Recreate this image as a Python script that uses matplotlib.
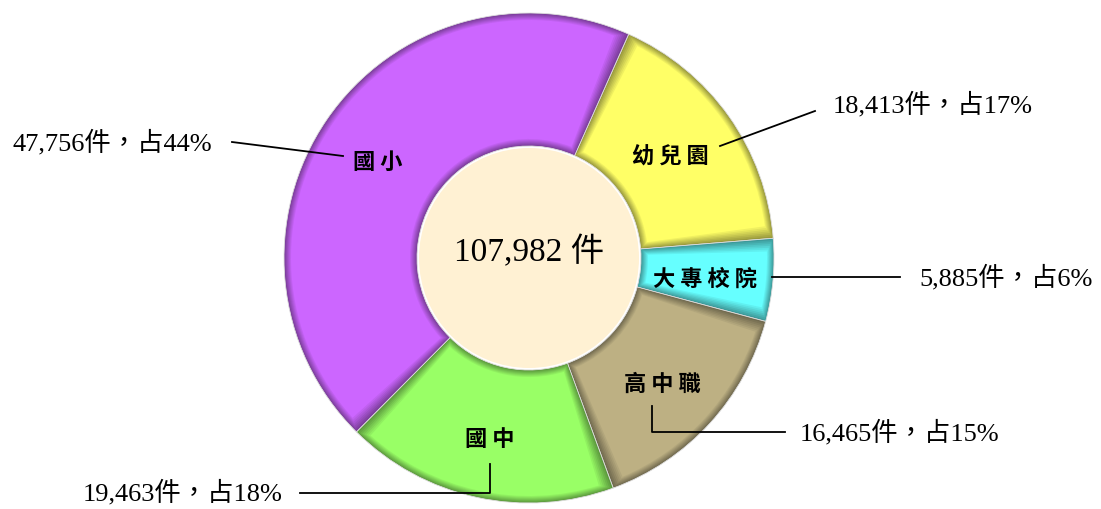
import numpy as np
import matplotlib.pyplot as plt
from matplotlib.patches import Wedge, Circle
import matplotlib.colors as mcolors

categories = ["幼兒園", "大專校院", "高中職", "國中", "國小"]
counts = [18413, 5885, 16465, 19463, 47756]
percents = [17, 6, 15, 18, 44]
colors = ["#FFFF66", "#66FFFF", "#BDB083", "#99FF66", "#CC66FF"]

W, H = 1101, 510
serif_cjk = ["Liberation Serif", "Noto Sans CJK TC"]
cjk = ["Noto Sans CJK TC", "DejaVu Sans"]

fig = plt.figure(figsize=(11.01, 5.10), dpi=100)
ax = fig.add_axes([0, 0, 1, 1])

cx, cy = 529, H - 259
R, r_in = 245, 112

wedges, _ = ax.pie(counts, colors=colors, startangle=66, counterclock=False,
                   radius=R, center=(cx, cy),
                   wedgeprops=dict(width=R - r_in, edgecolor="#dddddd", linewidth=0.6))

# fake bevel: nested insets going from darker rim to the base colour
n = 7
for w, c in zip(wedges, colors):
    base = np.array(mcolors.to_rgb(c))
    w.set_facecolor(base * 0.6)
    t1, t2 = w.theta1, w.theta2
    for k in range(1, n + 1):
        f = 0.6 + 0.4 * k / n
        dth = np.degrees(k / (r_in + 20))
        ax.add_patch(Wedge((cx, cy), R - k, t1 + dth, t2 - dth,
                           width=R - r_in - 2 * k,
                           facecolor=np.clip(base * f, 0, 1), edgecolor="none"))

ax.add_patch(Circle((cx, cy), r_in - 2, facecolor="#FFF1D3", edgecolor="none", zorder=3))
ax.text(cx, H - 252, f"{sum(counts):,} 件", ha="center", va="center",
        fontsize=24, family=serif_cjk, zorder=4)

# label layout in pixel coords (x, y from top)
cat_pos = [(670, 157), (705, 279), (662, 384), (490, 440), (378, 162)]
val_pos = [(833, 105, "left"), (1093, 278, "right"), (800, 433, "left"),
           (283, 493, "right"), (212, 143, "right")]
leaders = [
    [(720, 147), (815, 112)],
    [(772, 278), (900, 278)],
    [(652, 407), (652, 433), (785, 433)],
    [(490, 465), (490, 494), (300, 494)],
    [(343, 157), (232, 143)],
]

for name, cnt, p, (x, y), (vx, vy, ha), pts in zip(categories, counts, percents,
                                                     cat_pos, val_pos, leaders):
    ax.text(x, H - y, " ".join(name), ha="center", va="center", fontsize=16,
            fontweight="bold", family=cjk, zorder=4)
    ax.text(vx, H - vy, f"{cnt:,}件，占{p}%", ha=ha, va="center", fontsize=19,
            family=serif_cjk, zorder=4)
    xs = [q[0] for q in pts]
    ys = [H - q[1] for q in pts]
    ax.plot(xs, ys, color="black", lw=1.3, zorder=4)

ax.set_xlim(0, W)
ax.set_ylim(0, H)
ax.set_aspect("equal")
ax.axis("off")

plt.savefig("out.png", dpi=100)
